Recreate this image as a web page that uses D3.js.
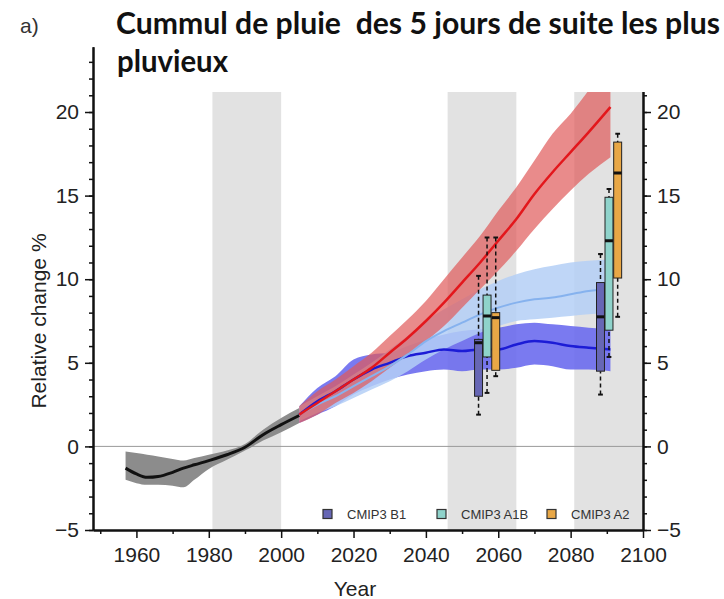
<!DOCTYPE html>
<html>
<head>
<meta charset="utf-8">
<script src="https://cdn.jsdelivr.net/npm/d3@7"></script>
<style>
  body { margin: 0; background: #fff; }
  svg { display: block; }
</style>
</head>
<body>
<div id="chart"></div>
<script>
// historical ensemble (black line + grey band)
const histYears = [1957, 1960, 1963, 1966, 1970, 1973, 1976, 1980, 1985, 1990, 1995, 2000, 2005];
const histMean  = [-1.3, -1.65, -1.85, -1.8, -1.55, -1.3, -1.1, -0.85, -0.5, -0.05, 0.7, 1.3, 1.85];
const histLow   = [-2.0, -2.2, -2.3, -2.3, -2.35, -2.45, -2.0, -1.35, -0.8, -0.25, 0.35, 0.85, 1.4];
const histHigh  = [-0.3, -0.4, -0.5, -0.6, -0.75, -0.85, -0.7, -0.5, -0.25, 0.15, 1.0, 1.7, 2.3];

// scenario projections
const futYears = [2005, 2010, 2015, 2020, 2025, 2030, 2035, 2040, 2045, 2050, 2055, 2060, 2065, 2070, 2075, 2080, 2085, 2091];
const b1Mean  = [1.9, 2.7, 3.3, 4.0, 4.6, 5.0, 5.4, 5.6, 5.8, 5.7, 5.8, 5.8, 6.1, 6.3, 6.2, 6.0, 5.9, 5.8];
const b1Low   = [1.4, 1.9, 2.4, 3.1, 3.6, 4.0, 4.3, 4.5, 4.6, 4.5, 4.6, 4.6, 4.7, 4.9, 4.8, 4.6, 4.6, 4.5];
const b1High  = [2.4, 3.5, 4.2, 5.2, 5.5, 5.6, 6.0, 6.4, 6.7, 6.9, 7.0, 7.1, 7.3, 7.4, 7.3, 7.2, 7.1, 7.0];
const a1bMean = [1.9, 2.5, 3.0, 3.6, 4.2, 4.8, 5.5, 6.3, 6.9, 7.4, 7.9, 8.3, 8.6, 8.8, 8.9, 9.1, 9.3, 9.4];
const a1bLow  = [1.5, 2.0, 2.4, 2.9, 3.4, 3.9, 4.5, 5.2, 5.8, 6.3, 6.8, 7.2, 7.5, 7.6, 7.7, 7.8, 7.9, 8.0];
const a1bHigh = [2.4, 3.0, 3.6, 4.3, 5.0, 5.8, 6.6, 7.5, 8.2, 8.8, 9.4, 9.9, 10.3, 10.6, 10.8, 11.0, 11.1, 11.2];
const a2Mean  = [1.9, 2.6, 3.3, 4.0, 4.7, 5.6, 6.5, 7.5, 8.6, 9.8, 11.0, 12.3, 13.6, 15.1, 16.4, 17.6, 18.8, 20.3];
const a2Low   = [1.4, 1.9, 2.6, 3.2, 3.9, 4.7, 5.5, 6.3, 7.2, 8.3, 9.4, 10.5, 11.7, 13.0, 14.2, 15.3, 16.3, 17.3];
const a2High  = [2.4, 3.3, 4.0, 4.8, 5.6, 6.6, 7.6, 8.7, 10.0, 11.3, 12.6, 14.1, 15.5, 17.1, 18.7, 19.9, 21.3, 23.0];

// shaded periods
const periodStart = [1981, 2046, 2081];
const periodEnd   = [2000, 2065, 2100];

// box plots: one row per period, one column per scenario (B1, A1B, A2)
const scenarios = ["CMIP3 B1", "CMIP3 A1B", "CMIP3 A2"];
const boxCenters = [2056.9, 2090.6];
const boxOffsets = [-2.35, 0, 2.4];
const whiskLow  = [[1.9, 3.2, 4.2],  [3.1, 5.35, 7.75]];
const boxQ1     = [[3.0, 5.35, 4.55], [4.5, 6.95, 10.07]];
const boxMedian = [[6.2, 7.8, 7.7],  [7.75, 12.3, 16.35]];
const boxQ3     = [[6.4, 9.05, 8.0],  [9.8, 14.9, 18.2]];
const whiskHigh = [[10.2, 12.5, 12.5], [11.5, 15.4, 18.7]];

// axis ticks
const yMajor = [-5, 0, 5, 10, 15, 20];
const xMajor = [1960, 1980, 2000, 2020, 2040, 2060, 2080, 2100];
const xMinor = [1950, 1970, 1990, 2010, 2030, 2050, 2070, 2090];

const W = 724, H = 599;
const boxColors = ["#6767b5", "#8fd3cb", "#e8a746"];
const font = "'Liberation Sans', Arial, Helvetica, sans-serif";

const svg = d3.select("#chart").append("svg")
  .attr("width", W).attr("height", H);

const x = d3.scaleLinear().domain([1948, 2100]).range([93, 643]);
const y = d3.scaleLinear().domain([-5, 23.9]).range([530, 46.8]);

svg.append("defs").append("clipPath").attr("id", "plotclip")
  .append("rect")
  .attr("x", x(1948)).attr("y", y(23.9))
  .attr("width", x(2100) - x(1948)).attr("height", y(-5) - y(23.9));

const plot = svg.append("g").attr("clip-path", "url(#plotclip)");

// grey periods
plot.append("g").selectAll("rect")
  .data(periodStart)
  .join("rect")
  .attr("x", d => x(d))
  .attr("width", (d, i) => x(periodEnd[i]) - x(d))
  .attr("y", y(23.9)).attr("height", y(-5) - y(23.9))
  .attr("fill", "#e2e2e2");

// zero line
plot.append("line")
  .attr("x1", x(1948)).attr("x2", x(2100))
  .attr("y1", y(0)).attr("y2", y(0))
  .attr("stroke", "#9a9a9a").attr("stroke-width", 1);

function series(years, mean, lo, hi) {
  return years.map((yr, i) => ({yr, m: mean[i], lo: lo[i], hi: hi[i]}));
}
const band = d3.area().x(d => x(d.yr)).y0(d => y(d.lo)).y1(d => y(d.hi)).curve(d3.curveMonotoneX);
const line = d3.line().x(d => x(d.yr)).y(d => y(d.m)).curve(d3.curveMonotoneX);

const hist = series(histYears, histMean, histLow, histHigh);
const b1 = series(futYears, b1Mean, b1Low, b1High);
const a1b = series(futYears, a1bMean, a1bLow, a1bHigh);
const a2 = series(futYears, a2Mean, a2Low, a2High);

plot.append("path").datum(hist).attr("d", band).attr("fill", "#8c8c8c");
plot.append("path").datum(b1).attr("d", band).attr("fill", "#6b6bee").attr("opacity", 0.9);
plot.append("path").datum(a1b).attr("d", band).attr("fill", "#b4cff6").attr("opacity", 0.85);
plot.append("path").datum(a2).attr("d", band).attr("fill", "#e05a5a").attr("opacity", 0.7);

plot.append("path").datum(hist).attr("d", line)
  .attr("fill", "none").attr("stroke", "#111").attr("stroke-width", 3);
plot.append("path").datum(b1).attr("d", line)
  .attr("fill", "none").attr("stroke", "#1c1cd6").attr("stroke-width", 2.5);
plot.append("path").datum(a1b).attr("d", line)
  .attr("fill", "none").attr("stroke", "#86b2ee").attr("stroke-width", 2);
plot.append("path").datum(a2).attr("d", line)
  .attr("fill", "none").attr("stroke", "#e3171c").attr("stroke-width", 2.5);

// box plots
const boxW = 2.2;
boxCenters.forEach((c, p) => {
  scenarios.forEach((s, k) => {
    const cx = c + boxOffsets[k];
    const g = plot.append("g");
    const xc = x(cx), hw = (x(cx + boxW / 2) - x(cx - boxW / 2)) / 2;
    // whiskers
    [[whiskHigh[p][k], boxQ3[p][k]], [whiskLow[p][k], boxQ1[p][k]]].forEach(([w, q]) => {
      g.append("line")
        .attr("x1", xc).attr("x2", xc)
        .attr("y1", y(w)).attr("y2", y(q))
        .attr("stroke", "#111").attr("stroke-width", 1.5)
        .attr("stroke-dasharray", "4,3");
      g.append("line")
        .attr("x1", xc - hw * 0.6).attr("x2", xc + hw * 0.6)
        .attr("y1", y(w)).attr("y2", y(w))
        .attr("stroke", "#111").attr("stroke-width", 2);
    });
    g.append("rect")
      .attr("x", xc - hw).attr("width", hw * 2)
      .attr("y", y(boxQ3[p][k])).attr("height", y(boxQ1[p][k]) - y(boxQ3[p][k]))
      .attr("fill", boxColors[k]).attr("stroke", "#222").attr("stroke-width", 1);
    g.append("line")
      .attr("x1", xc - hw).attr("x2", xc + hw)
      .attr("y1", y(boxMedian[p][k])).attr("y2", y(boxMedian[p][k]))
      .attr("stroke", "#111").attr("stroke-width", 3);
  });
});

// legend
const legX = [323, 437, 547];
const leg = svg.append("g");
scenarios.forEach((s, k) => {
  leg.append("rect")
    .attr("x", legX[k]).attr("y", 509.5).attr("width", 9).attr("height", 9)
    .attr("fill", boxColors[k]).attr("stroke", "#333").attr("stroke-width", 1.2);
  leg.append("text")
    .attr("x", legX[k] + 24).attr("y", 518.5)
    .attr("font-family", font).attr("font-size", 13).attr("fill", "#333")
    .text(s);
});

// axes
function styleAxis(g) {
  g.selectAll(".domain").attr("stroke", "#111").attr("stroke-width", 2);
  g.selectAll(".tick line").attr("stroke", "#111").attr("stroke-width", 1.5);
  g.selectAll(".tick text").attr("font-family", font).attr("font-size", 21).attr("fill", "#222");
}

const yMinor = d3.range(-5, 24, 1);

svg.append("g").attr("transform", `translate(${x(1948)},0)`)
  .call(d3.axisLeft(y).tickValues(yMinor).tickSize(4).tickSizeOuter(0).tickFormat(""))
  .call(styleAxis);
svg.append("g").attr("transform", `translate(${x(1948)},0)`)
  .call(d3.axisLeft(y).tickValues(yMajor).tickSize(8).tickSizeOuter(0).tickPadding(6)
    .tickFormat(d => d < 0 ? "\u2212" + Math.abs(d) : d))
  .call(styleAxis);

svg.append("g").attr("transform", `translate(${x(2100)},0)`)
  .call(d3.axisRight(y).tickValues(yMinor).tickSize(4).tickSizeOuter(0).tickFormat(""))
  .call(styleAxis);
svg.append("g").attr("transform", `translate(${x(2100)},0)`)
  .call(d3.axisRight(y).tickValues(yMajor).tickSize(8).tickSizeOuter(0).tickPadding(6)
    .tickFormat(d => d < 0 ? "\u2212" + Math.abs(d) : d))
  .call(styleAxis);

svg.append("g").attr("transform", `translate(0,${y(-5)})`)
  .call(d3.axisBottom(x).tickValues(xMinor).tickSize(4).tickSizeOuter(0).tickFormat(""))
  .call(styleAxis);
svg.append("g").attr("transform", `translate(0,${y(-5)})`)
  .call(d3.axisBottom(x).tickValues(xMajor).tickSize(8).tickSizeOuter(0).tickPadding(9)
    .tickFormat(d3.format("d")))
  .call(styleAxis);

// axis titles
svg.append("text")
  .attr("transform", `translate(46,${y(7.5)}) rotate(-90)`)
  .attr("text-anchor", "middle")
  .attr("font-family", font).attr("font-size", 21).attr("fill", "#222")
  .text("Relative change %");

svg.append("text")
  .attr("x", 355).attr("y", 596)
  .attr("text-anchor", "middle")
  .attr("font-family", font).attr("font-size", 21).attr("fill", "#222")
  .text("Year");

// title block pasted over the top of the panel
svg.append("rect")
  .attr("x", 97).attr("y", 0).attr("width", W - 97).attr("height", 92)
  .attr("fill", "#fff");

svg.append("text")
  .attr("x", 20).attr("y", 33)
  .attr("font-family", font).attr("font-size", 21).attr("fill", "#333")
  .text("a)");

const titleFont = "Lato, 'Open Sans', sans-serif";
svg.append("text")
  .attr("x", 116).attr("y", 34)
  .attr("font-family", titleFont).attr("font-weight", 700).attr("font-size", 30)
  .attr("fill", "#111").style("white-space", "pre")
  .attr("textLength", 604).attr("lengthAdjust", "spacingAndGlyphs")
  .text("Cummul de pluie  des 5 jours de suite les plus");
svg.append("text")
  .attr("x", 117).attr("y", 72)
  .attr("font-family", titleFont).attr("font-weight", 700).attr("font-size", 30)
  .attr("fill", "#111")
  .attr("textLength", 111).attr("lengthAdjust", "spacingAndGlyphs")
  .text("pluvieux");
</script>
</body>
</html>
